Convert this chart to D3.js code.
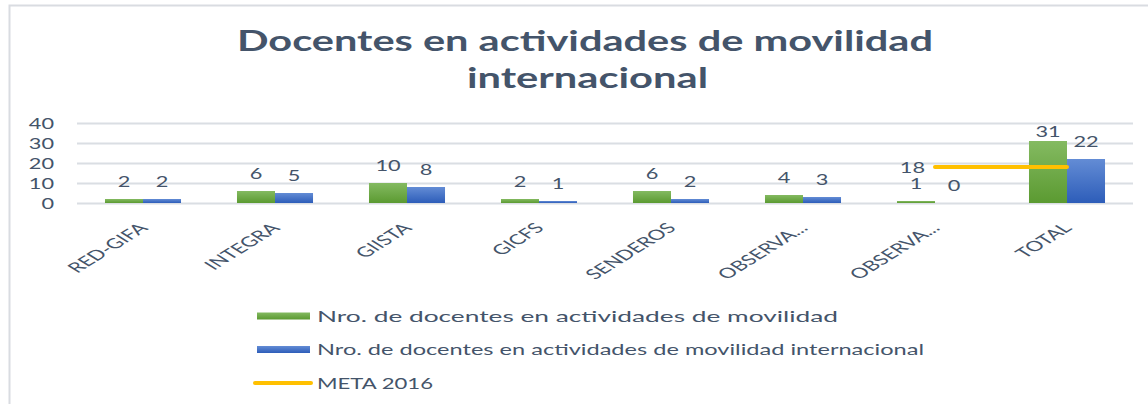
<!DOCTYPE html>
<html>
<head>
<meta charset="utf-8">
<script src="https://cdn.jsdelivr.net/npm/d3@7"></script>
<style>
  html, body { margin: 0; padding: 0; background: #fff; }
  svg { display: block; }
  text { font-family: Lato, "Open Sans", sans-serif; fill: #44546A; }
</style>
</head>
<body>
<svg id="chart" width="1148" height="404"></svg>
<script>
"use strict";

var categories = ["RED-GIFA", "INTEGRA", "GIISTA", "GICFS", "SENDEROS", "OBSERVA...", "OBSERVA...", "TOTAL"];
var movilidad = [2, 6, 10, 2, 6, 4, 1, 31];
var internacional = [2, 5, 8, 1, 2, 3, 0, 22];
var meta = [null, null, null, null, null, null, 18, 18];
var yTicks = [0, 10, 20, 30, 40];
var seriesNames = [
  "Nro. de docentes en actividades de movilidad",
  "Nro. de docentes en actividades de movilidad internacional",
  "META 2016"
];
var titleLines = ["Docentes en actividades de movilidad", "internacional"];

var oPlot = { left: 77, right: 1133, top: 123, bottom: 203 };
var fStretch = 1.45; // the reference is stretched sideways
var fStretchCat = 1.6;

var oSvg = d3.select("#chart");

// gradients for bars
var oDefs = oSvg.append("defs");
[["gGreen", "#84BA61", "#5B9A31"], ["gBlue", "#638CD5", "#2D5DB9"]].forEach(function (a) {
  var g = oDefs.append("linearGradient").attr("id", a[0])
    .attr("x1", 0).attr("y1", 0).attr("x2", 0).attr("y2", 1);
  g.append("stop").attr("offset", "0%").attr("stop-color", a[1]);
  g.append("stop").attr("offset", "100%").attr("stop-color", a[2]);
});

// chart border (left + top only visible)
oSvg.append("path")
  .attr("d", "M9.5,404 V5.5 H1148")
  .attr("fill", "none")
  .attr("stroke", "#D9DCE1")
  .attr("stroke-width", 2);

// title
oSvg.selectAll("text.title").data(titleLines).enter().append("text")
  .attr("class", "title")
  .attr("x", function (d, i) { return i === 0 ? 237 : 467; })
  .attr("y", function (d, i) { return i === 0 ? 51 : 88; })
  .attr("textLength", function (d, i) { return i === 0 ? 696 : 241; })
  .attr("lengthAdjust", "spacingAndGlyphs")
  .style("font-size", "28px")
  .style("font-weight", "bold")
  .text(function (d) { return d; });

var oScaleX = d3.scaleBand()
  .domain(d3.range(categories.length))
  .range([oPlot.left, oPlot.right])
  .padding(0);

var iGroup = oScaleX.bandwidth() * 0.576;
var oScaleX1 = d3.scaleBand().domain([0, 1]).range([0, iGroup]);

var oScaleY = d3.scaleLinear()
  .domain([0, 40])
  .range([oPlot.bottom, oPlot.top]);

// gridlines + y labels
var oYAxis = oSvg.append("g")
  .attr("transform", "translate(" + oPlot.left + ",0)")
  .call(d3.axisLeft(oScaleY).tickValues(yTicks).tickSize(-(oPlot.right - oPlot.left)).tickFormat(""));
oYAxis.select(".domain").remove();
oYAxis.selectAll("line").attr("stroke", "#DADEE3").attr("stroke-width", 2);

oSvg.append("g").selectAll("text").data(yTicks).enter().append("text")
  .attr("transform", function (d) { return "translate(54," + (oScaleY(d) + 5.5) + ") scale(" + fStretch + ",1)"; })
  .attr("text-anchor", "end")
  .style("font-size", "15px")
  .text(function (d) { return d; });

// bars
var aSeries = [movilidad, internacional];
var aFill = ["url(#gGreen)", "url(#gBlue)"];
aSeries.forEach(function (aVals, s) {
  var oG = oSvg.append("g").attr("fill", aFill[s]);
  oG.selectAll("rect").data(aVals).enter().append("rect")
    .attr("x", function (d, i) { return oScaleX(i) + (oScaleX.bandwidth() - iGroup) / 2 + oScaleX1(s); })
    .attr("y", function (d) { return oScaleY(d); })
    .attr("width", oScaleX1.bandwidth())
    .attr("height", function (d) { return oScaleY(0) - oScaleY(d); });

  oSvg.append("g").selectAll("text").data(aVals).enter().append("text")
    .attr("transform", function (d, i) {
      var x = oScaleX(i) + (oScaleX.bandwidth() - iGroup) / 2 + oScaleX1(s) + oScaleX1.bandwidth() / 2;
      var y = Math.max(oScaleY(d) - 12, oPlot.top + 14);
      return "translate(" + x + "," + y + ") scale(" + fStretch + ",1)";
    })
    .attr("text-anchor", "middle")
    .style("font-size", "15px")
    .text(function (d) { return d; });
});

// meta line
var aMeta = meta.map(function (d, i) { return { i: i, v: d }; }).filter(function (d) { return d.v !== null; });
var oLine = d3.line()
  .x(function (d) { return oScaleX(d.i) + oScaleX.bandwidth() / 2; })
  .y(function (d) { return oScaleY(d.v); });
oSvg.append("path")
  .datum(aMeta)
  .attr("d", oLine)
  .attr("fill", "none")
  .attr("stroke", "#FFC000")
  .attr("stroke-width", 4)
  .attr("stroke-linecap", "round");

oSvg.append("text")
  .attr("transform", "translate(" + (oScaleX(aMeta[0].i) + oScaleX.bandwidth() / 2 - 10) + "," + (oScaleY(aMeta[0].v) + 5.5) + ") scale(" + fStretch + ",1)")
  .attr("text-anchor", "end")
  .style("font-size", "15px")
  .text(aMeta[0].v);

// category labels
oSvg.append("g").selectAll("text").data(categories).enter().append("text")
  .attr("transform", function (d, i) {
    return "translate(" + (oScaleX(i) + oScaleX.bandwidth() / 2 + 6) + ",229) scale(" + fStretchCat + ",1) rotate(-45)";
  })
  .attr("text-anchor", "end")
  .style("font-size", "14px")
  .text(function (d) { return d; });

// legend
var aLegendLen = [521, 607, 116];
var oLegend = oSvg.append("g");
seriesNames.forEach(function (sName, i) {
  var y = 316 + i * 33.5;
  if (i < 2) {
    oLegend.append("rect")
      .attr("x", 257).attr("y", y - 3.5).attr("width", 53).attr("height", 7)
      .attr("fill", aFill[i]);
  } else {
    oLegend.append("line")
      .attr("x1", 255).attr("x2", 311).attr("y1", y).attr("y2", y)
      .attr("stroke", "#FFC000").attr("stroke-width", 4).attr("stroke-linecap", "round");
  }
  oLegend.append("text")
    .attr("x", 317).attr("y", y + 5.5)
    .attr("textLength", aLegendLen[i])
    .attr("lengthAdjust", "spacingAndGlyphs")
    .style("font-size", "15px")
    .text(sName);
});
</script>
</body>
</html>
